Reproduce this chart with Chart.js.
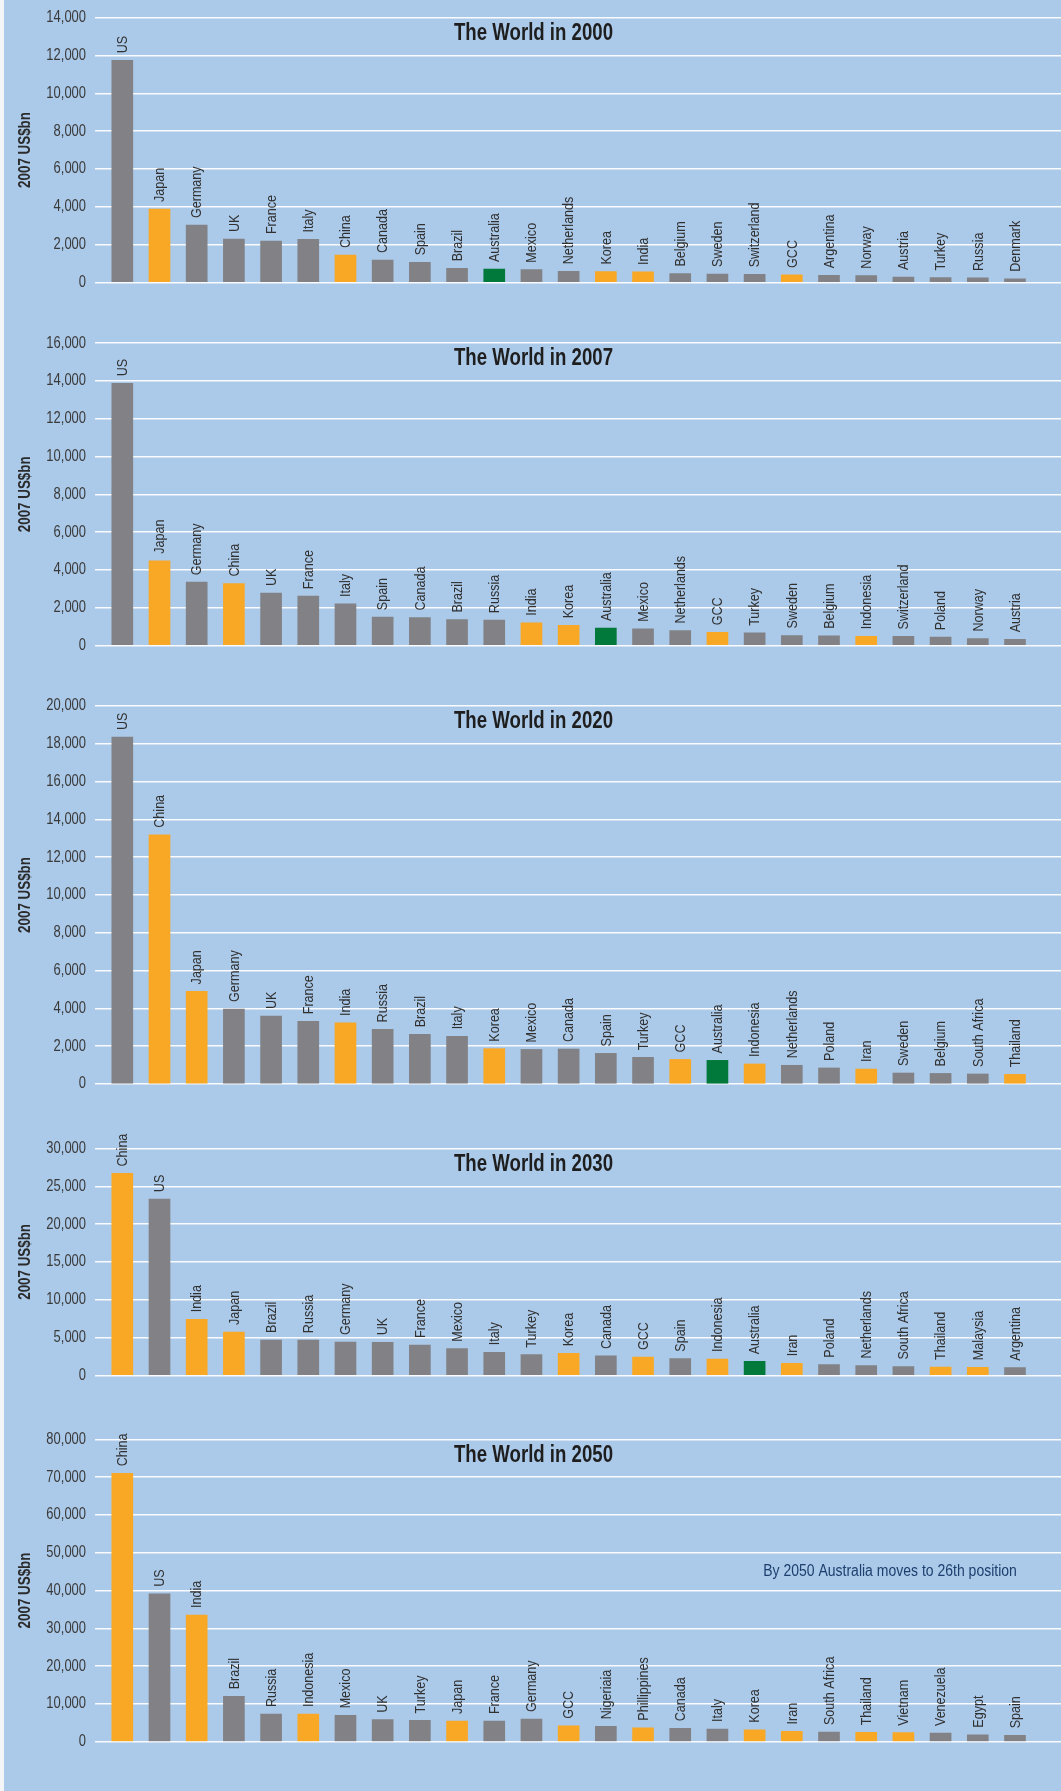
<!DOCTYPE html>
<html>
<head>
<meta charset="utf-8">
<title>The World in 2000 - 2050</title>
<script src="https://cdn.jsdelivr.net/npm/chart.js@4.4.1/dist/chart.umd.min.js"></script>
<style>
  html, body { margin: 0; padding: 0; }
  body { width: 1061px; height: 1791px; background: #abc9e8; position: relative; overflow: hidden; }
  .edge { position: absolute; left: 0; top: 0; width: 4px; height: 1791px; background: #f3f5f9; z-index: 2; }
  canvas { position: absolute; left: 0; }
</style>
</head>
<body>
<div class="edge"></div>
<canvas id="c2000" width="1061" height="300" style="top:0px"></canvas>
<canvas id="c2007" width="1061" height="365" style="top:300px"></canvas>
<canvas id="c2020" width="1061" height="430" style="top:665px"></canvas>
<canvas id="c2030" width="1061" height="300" style="top:1095px"></canvas>
<canvas id="c2050" width="1061" height="396" style="top:1395px"></canvas>
<script>
// GDP, 2007 US$bn
const countries2000 = ['US', 'Japan', 'Germany', 'UK', 'France', 'Italy', 'China', 'Canada', 'Spain', 'Brazil', 'Australia', 'Mexico', 'Netherlands', 'Korea', 'India', 'Belgium', 'Sweden', 'Switzerland', 'GCC', 'Argentina', 'Norway', 'Austria', 'Turkey', 'Russia', 'Denmark'];
const gdp2000 = [11750, 3880, 3030, 2290, 2180, 2270, 1440, 1180, 1060, 740, 700, 670, 580, 570, 550, 460, 440, 420, 390, 370, 350, 280, 250, 230, 190];

const countries2007 = ['US', 'Japan', 'Germany', 'China', 'UK', 'France', 'Italy', 'Spain', 'Canada', 'Brazil', 'Russia', 'India', 'Korea', 'Australia', 'Mexico', 'Netherlands', 'GCC', 'Turkey', 'Sweden', 'Belgium', 'Indonesia', 'Switzerland', 'Poland', 'Norway', 'Austria'];
const gdp2007 = [13870, 4480, 3350, 3280, 2780, 2610, 2200, 1500, 1480, 1370, 1340, 1200, 1070, 920, 880, 790, 700, 670, 530, 510, 490, 480, 440, 370, 330];

const countries2020 = ['US', 'China', 'Japan', 'Germany', 'UK', 'France', 'India', 'Russia', 'Brazil', 'Italy', 'Korea', 'Mexico', 'Canada', 'Spain', 'Turkey', 'GCC', 'Australia', 'Indonesia', 'Netherlands', 'Poland', 'Iran', 'Sweden', 'Belgium', 'South Africa', 'Thailand'];
const gdp2020 = [18360, 13190, 4900, 3970, 3600, 3320, 3230, 2890, 2630, 2520, 1870, 1830, 1850, 1620, 1410, 1300, 1250, 1060, 990, 850, 790, 580, 560, 530, 510];

const countries2030 = ['China', 'US', 'India', 'Japan', 'Brazil', 'Russia', 'Germany', 'UK', 'France', 'Mexico', 'Italy', 'Turkey', 'Korea', 'Canada', 'GCC', 'Spain', 'Indonesia', 'Australia', 'Iran', 'Poland', 'Netherlands', 'South Africa', 'Thailand', 'Malaysia', 'Argentina'];
const gdp2030 = [26700, 23300, 7400, 5730, 4670, 4650, 4400, 4360, 4010, 3520, 3040, 2730, 2910, 2560, 2420, 2200, 2160, 1850, 1590, 1410, 1280, 1150, 1100, 1060, 1010];

const countries2050 = ['China', 'US', 'India', 'Brazil', 'Russia', 'Indonesia', 'Mexico', 'UK', 'Turkey', 'Japan', 'France', 'Germany', 'GCC', 'Nigeriaia', 'Phillippines', 'Canada', 'Italy', 'Korea', 'Iran', 'South Africa', 'Thailand', 'Vietnam', 'Venezuela', 'Egypt', 'Spain'];
const gdp2050 = [71000, 39150, 33500, 12000, 7320, 7300, 6970, 5820, 5640, 5470, 5450, 6000, 4230, 4060, 3700, 3530, 3350, 3170, 2730, 2560, 2470, 2380, 2290, 1850, 1680];

// y axis range per panel
const yMax = [14000, 16000, 20000, 30000, 80000];
const yStep = [2000, 2000, 2000, 5000, 10000];

// Asian economies are picked out in orange, Australia in green
const asia = ['Japan', 'China', 'India', 'Korea', 'GCC', 'Indonesia', 'Iran', 'Thailand', 'Malaysia', 'Vietnam', 'Phillippines'];
const GREY = '#828286';
const ORANGE = '#f9a826';
const GREEN = '#00793b';

const FONT = '"Liberation Sans", Arial, sans-serif';
const SQUEEZE = 0.81; // fake a narrow face by squashing text horizontally

function barColour(name) {
    if (name === 'Australia') return GREEN;
    return asia.includes(name) ? ORANGE : GREY;
}

// draws condensed text at (x, y), optionally rotated
function narrowText(ctx, text, x, y, align, angle) {
    ctx.save();
    ctx.translate(x, y);
    if (angle) ctx.rotate(angle);
    ctx.scale(SQUEEZE, 1);
    ctx.textAlign = align;
    ctx.fillText(text, 0, 0);
    ctx.restore();
}

// y tick labels, axis title, rotated country names, panel title and note
const panelText = {
    id: 'panelText',
    afterDatasetsDraw(chart, args, opts) {
        const ctx = chart.ctx;
        const area = chart.chartArea;
        const yScale = chart.scales.y;
        const meta = chart.getDatasetMeta(0);
        const names = chart.data.labels;

        ctx.save();
        ctx.textBaseline = 'middle';

        ctx.font = '16px ' + FONT;
        ctx.fillStyle = '#3a3a3a';
        yScale.ticks.forEach(t => {
            narrowText(ctx, t.label, area.left - 9, yScale.getPixelForValue(t.value), 'right');
        });

        ctx.font = 'bold 16.5px ' + FONT;
        ctx.fillStyle = '#2b2b2b';
        narrowText(ctx, '2007 US$bn', 25, (area.top + area.bottom) / 2, 'center', -Math.PI / 2);

        ctx.font = '15.5px ' + FONT;
        ctx.fillStyle = '#303030';
        meta.data.forEach((bar, i) => {
            narrowText(ctx, names[i], bar.x + 0.5, bar.y - 7, 'left', -Math.PI / 2);
        });

        ctx.font = 'bold 23px ' + FONT;
        ctx.fillStyle = '#1e1e1e';
        narrowText(ctx, opts.title, chart.width / 2 + 3, area.top + 16, 'center');

        if (opts.note) {
            ctx.font = '17.3px ' + FONT;
            ctx.fillStyle = '#1d3f6e';
            narrowText(ctx, opts.note, chart.scales.x.getPixelForValue(24.05),
                yScale.getPixelForValue(opts.noteAt), 'right');
        }
        ctx.restore();
    }
};

function makePanel(id, year, names, values, max, step, padTop, padBottom, note, noteAt) {
    const ctx = document.getElementById(id).getContext('2d');
    return new Chart(ctx, {
        type: 'bar',
        data: {
            labels: names,
            datasets: [{
                data: values.map((v, i) => ({ x: i, y: v })),
                backgroundColor: names.map(barColour),
                barThickness: 21,
                borderWidth: 0
            }]
        },
        options: {
            responsive: false,
            animation: false,
            layout: { padding: { top: padTop, bottom: padBottom, left: 0, right: 0 } },
            scales: {
                x: { type: 'linear', offset: false, min: -0.734, max: 25.237, display: false },
                y: {
                    min: 0,
                    max: max,
                    ticks: { stepSize: step, display: false },
                    grid: { color: 'rgba(255,255,255,0.92)', lineWidth: 1.5, drawTicks: false },
                    border: { display: false },
                    afterFit(scale) { scale.width = 95; }
                }
            },
            plugins: {
                legend: { display: false },
                tooltip: { enabled: false },
                panelText: { title: 'The World in ' + year, note: note, noteAt: noteAt }
            }
        },
        plugins: [panelText]
    });
}

makePanel('c2000', 2000, countries2000, gdp2000, yMax[0], yStep[0], 17.7, 17.7);
makePanel('c2007', 2007, countries2007, gdp2007, yMax[1], yStep[1], 43.1, 19.5);
makePanel('c2020', 2020, countries2020, gdp2020, yMax[2], yStep[2], 41, 11);
makePanel('c2030', 2030, countries2030, gdp2030, yMax[3], yStep[3], 53.5, 19.7);
makePanel('c2050', 2050, countries2050, gdp2050, yMax[4], yStep[4], 44.3, 49.3,
    'By 2050 Australia moves to 26th position', 45000);
</script>
</body>
</html>
